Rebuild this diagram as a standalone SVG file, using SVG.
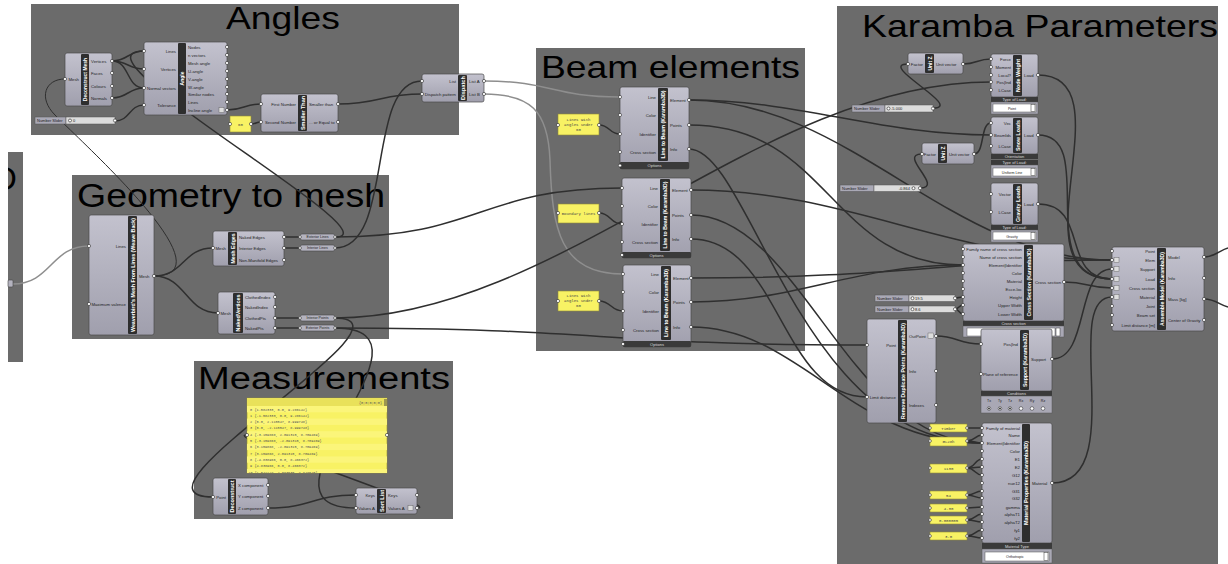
<svg xmlns="http://www.w3.org/2000/svg" width="1228" height="564" viewBox="0 0 1228 564">
<defs>
<linearGradient id="cg" x1="0" y1="0" x2="0" y2="1"><stop offset="0" stop-color="#c3c2ce"/><stop offset="1" stop-color="#a09fad"/></linearGradient>
<clipPath id="clipLeft"><rect x="8" y="152" width="15" height="210"/></clipPath>
<clipPath id="clipPanel"><rect x="247" y="398" width="140" height="75"/></clipPath>
<style>
.g{fill:#6b6b6b}
.t{font-family:"Liberation Sans",Arial,sans-serif;fill:#000}
.c{fill:url(#cg);stroke:#4a4a4a;stroke-width:.7}
.b{fill:#2e2e2e}
.bt{font-family:"Liberation Sans",Arial,sans-serif;font-weight:bold;font-size:5px;fill:#fff;text-anchor:middle;dominant-baseline:central}
.i{font-family:"Liberation Sans",Arial,sans-serif;font-size:4.3px;fill:#1e1e1e;text-anchor:end}
.o{font-family:"Liberation Sans",Arial,sans-serif;font-size:4.3px;fill:#1e1e1e;text-anchor:start}
.p{fill:#fff;stroke:#2a2a2a;stroke-width:.6}
.w{fill:none;stroke:#2f2f2f;stroke-width:1.5}
.wt{fill:none;stroke:#2f2f2f;stroke-width:1}
.wl{fill:none;stroke:#8e8e8e;stroke-width:1.5}
.y{fill:#f8f264;stroke:#8f8a3a;stroke-width:.6}
.m{font-family:"Liberation Mono",monospace;font-size:4px;fill:#444;text-anchor:middle}
.s{fill:#3a3a3a}
.st{font-family:"Liberation Sans",Arial,sans-serif;font-size:4px;fill:#ddd;text-anchor:middle}
.sl{fill:#a9a8b5;stroke:#555;stroke-width:.5}
.tr{fill:#dcdcdc;stroke:#555;stroke-width:.5}
.sx{font-family:"Liberation Sans",Arial,sans-serif;font-size:4px;fill:#222}
.dd{fill:#fff;stroke:#555;stroke-width:.5}
.rel{fill:#b4b3bf;stroke:#444;stroke-width:.6}
.rt{font-family:"Liberation Sans",Arial,sans-serif;font-size:3.6px;fill:#222;text-anchor:middle}
.pm{font-family:"Liberation Mono",monospace;font-size:3.5px;fill:#555}
</style>
</defs>
<rect width="1228" height="564" fill="#fff"/>

<g id="groups">
<rect class="g" x="31" y="4" width="428" height="131"/>
<text class="t" x="226" y="29" font-size="32" textLength="114" lengthAdjust="spacingAndGlyphs">Angles</text>
<rect class="g" x="8" y="152" width="15" height="210"/>
<text class="t" x="-7" y="190" font-size="33" clip-path="url(#clipLeft)">D</text>
<rect class="g" x="72" y="175" width="317" height="164"/>
<text class="t" x="77" y="207" font-size="33" textLength="308" lengthAdjust="spacingAndGlyphs">Geometry to mesh</text>
<rect class="g" x="194" y="361" width="259" height="158"/>
<text class="t" x="198" y="389" font-size="31" textLength="252" lengthAdjust="spacingAndGlyphs">Measurements</text>
<rect class="g" x="536" y="48" width="269" height="303"/>
<text class="t" x="541" y="78" font-size="32" textLength="259" lengthAdjust="spacingAndGlyphs">Beam elements</text>
<rect class="g" x="837" y="6" width="381" height="558"/>
<text class="t" x="862" y="37" font-size="32" textLength="356" lengthAdjust="spacingAndGlyphs">Karamba Parameters</text>
</g>

<g id="connectors">
<path class="wt" d="M154,276 C230,276 90,150 55,115 C38,98 45,79 65,79"/>
<path class="w" d="M154,276 C184,276 183,248 213,248"/>
<path class="w" d="M154,276 C186,276 186,313 218,313"/>
<path class="wl" d="M13,284 C51,284 51,246 89,246"/>
<path class="w" d="M284,237 L300,237"/>
<path class="w" d="M284,248 L300,248"/>
<path class="w" d="M275,318 L300,318"/>
<path class="w" d="M275,328 L300,328"/>
<path class="w" d="M112,61 C128,61 128,51 144,51"/>
<path class="w" d="M112,61 C128,61 128,69 144,69"/>
<path class="w" d="M112,61 C130,61 126,88 144,88"/>
<path class="w" d="M112,98 C128,98 128,88 144,88"/>
<path class="w" d="M115,121 C130,121 129,105 144,105"/>
<path class="w" d="M227,110 C244,110 244,104 261,104"/>
<path class="w" d="M251,124 C256,124 256,122 261,122"/>
<path class="w" d="M338,104 C380,104 380,94 422,94"/>
<path class="w" d="M335,248 C395,248 365,81 422,81"/>
<path class="w" d="M335,237 C400,237 60,51 144,51"/>
<path class="wl" d="M484,81 C552,81 552,97 620,97"/>
<path class="wl" d="M484,94 C530,94 548,110 550,160 C552,230 560,274 623,274"/>
<path class="w" d="M335,237 C480,237 480,188 622,188"/>
<path class="w" d="M599,125 C610,125 609,134 620,134"/>
<path class="w" d="M599,213 C611,213 610,224 622,224"/>
<path class="w" d="M599,301 C611,301 611,311 623,311"/>
<path class="w" d="M335,318 C560,318 760,82 991,82"/>
<path class="w" d="M335,328 C600,328 600,345 867,345"/>
<path class="w" d="M335,318 C430,318 110,497 213,497"/>
<path class="w" d="M335,328 C455,328 236,508 356,508"/>
<path class="w" d="M268,508 C312,508 312,495 356,495"/>
<path class="w" d="M417,508 C447,508 217,435 247,435"/>
<path class="w" d="M689,100 C850,100 950,260 1112,260"/>
<path class="w" d="M691,190 C850,190 950,260 1112,260"/>
<path class="w" d="M691,278 C900,278 950,260 1112,260"/>
<path class="w" d="M689,100 C800,100 880,135 991,135"/>
<path class="w" d="M689,125 C830,125 830,265 963,265"/>
<path class="w" d="M689,149 C750,149 800,443 982,443"/>
<path class="w" d="M691,215 C800,215 850,443 982,443"/>
<path class="w" d="M691,239 C780,239 780,397 867,397"/>
<path class="w" d="M691,302 C800,302 850,265 963,265"/>
<path class="w" d="M691,327 C800,327 850,443 982,443"/>
<path class="w" d="M933,108 C965,108 876,64 908,64"/>
<path class="w" d="M963,64 C977,64 977,59 991,59"/>
<path class="w" d="M1038,75 C1130,75 1010,279 1112,279"/>
<path class="w" d="M1038,135 C1100,135 1030,279 1112,279"/>
<path class="w" d="M1038,204 C1090,204 1060,279 1112,279"/>
<path class="w" d="M920,188 C945,188 897,154 922,154"/>
<path class="w" d="M974,154 C985,154 980,123 991,123"/>
<path class="w" d="M955,298 C959,298 959,297 963,297"/>
<path class="w" d="M955,309 C959,309 959,305 963,305"/>
<path class="w" d="M955,309 C959,309 959,314 963,314"/>
<path class="w" d="M1064,282 C1088,282 1088,288 1112,288"/>
<path class="w" d="M1052,359 C1090,359 1075,269 1112,269"/>
<path class="w" d="M936,336 C958,336 958,344 981,344"/>
<path class="w" d="M1052,483 C1130,483 1060,297 1112,297"/>
<path class="w" d="M1204,257 C1215,257 1220,250 1228,248"/>
<path class="w" d="M1204,299 C1215,299 1220,305 1228,307"/>
<path class="w" d="M967,428 L982,428"/>
<path class="w" d="M967,441 C975,441 975,435 982,435"/>
<path class="w" d="M967,441 C975,441 975,443 982,443"/>
<path class="w" d="M967,468 C975,468 975,459 982,459"/>
<path class="w" d="M967,468 C975,468 975,467 982,467"/>
<path class="w" d="M967,468 C975,468 975,475 982,475"/>
<path class="w" d="M967,495 C975,495 975,491 982,491"/>
<path class="w" d="M967,495 C975,495 975,498 982,498"/>
<path class="w" d="M967,508 L982,507"/>
<path class="w" d="M967,520 C975,520 975,514 982,514"/>
<path class="w" d="M967,520 C975,520 975,522 982,522"/>
<path class="w" d="M967,536 C975,536 975,530 982,530"/>
<path class="w" d="M967,536 C975,536 975,538 982,538"/>
</g>

<g id="left-param"><rect class="rel" x="8" y="280" width="5" height="7" rx="1"/></g>

<g id="deconstruct-mesh">
<rect class="c" x="65" y="53" width="47" height="53" rx="2"/>
<rect class="b" x="81" y="54" width="8" height="51" rx="1"/>
<text class="bt" transform="translate(85,79.5) rotate(-90)">Deconstruct Mesh</text>
<text class="i" x="79" y="80.5">Mesh</text>
<text class="o" x="91" y="62.5">Vertices</text><text class="o" x="91" y="74.5">Faces</text><text class="o" x="91" y="87.5">Colours</text><text class="o" x="91" y="99.5">Normals</text>
<circle class="p" cx="65" cy="79" r="1.6"/><circle class="p" cx="112" cy="61" r="1.6"/><circle class="p" cx="112" cy="73" r="1.6"/><circle class="p" cx="112" cy="86" r="1.6"/><circle class="p" cx="112" cy="98" r="1.6"/>
</g>

<g id="angle">
<rect class="c" x="144" y="42" width="83" height="73" rx="2"/>
<rect class="b" x="178" y="43" width="8" height="71" rx="1"/>
<text class="bt" transform="translate(182,78.5) rotate(-90)">Angle</text>
<text class="i" x="176" y="52.5">Lines</text><text class="i" x="176" y="70.5">Vertices</text><text class="i" x="176" y="89.5">Normal vectors</text><text class="i" x="176" y="106.5">Tolerance</text>
<text class="o" x="188" y="48.5">Nodes</text><text class="o" x="188" y="56.5">n vectors</text><text class="o" x="188" y="64.5">Mesh angle</text><text class="o" x="188" y="72.5">U-angle</text><text class="o" x="188" y="80.5">V-angle</text><text class="o" x="188" y="88.5">W-angle</text><text class="o" x="188" y="95.5">Similar nodes</text><text class="o" x="188" y="103.5">Lines</text><text class="o" x="188" y="111.5">Incline angle</text>
<rect x="219" y="107.5" width="5" height="5" fill="#ddd" stroke="#555" stroke-width=".4"/>
<circle class="p" cx="144" cy="51" r="1.6"/><circle class="p" cx="144" cy="69" r="1.6"/><circle class="p" cx="144" cy="88" r="1.6"/><circle class="p" cx="144" cy="105" r="1.6"/>
<circle class="p" cx="227" cy="47" r="1.6"/><circle class="p" cx="227" cy="55" r="1.6"/><circle class="p" cx="227" cy="63" r="1.6"/><circle class="p" cx="227" cy="71" r="1.6"/><circle class="p" cx="227" cy="79" r="1.6"/><circle class="p" cx="227" cy="87" r="1.6"/><circle class="p" cx="227" cy="94" r="1.6"/><circle class="p" cx="227" cy="102" r="1.6"/><circle class="p" cx="227" cy="110" r="1.6"/>
</g>

<g id="slider-tolerance">
<rect class="sl" x="35" y="117" width="31" height="7"/><rect class="tr" x="66" y="117" width="49" height="7"/>
<text class="sx" x="37" y="122">Number Slider</text>
<circle cx="70" cy="120.5" r="1.5" fill="#fff" stroke="#222" stroke-width=".6"/><text class="sx" x="73" y="122">0</text>
<circle class="p" cx="115" cy="120.5" r="1.6"/>
</g>

<g id="panel-60">
<rect class="y" x="230" y="116" width="21" height="16"/>
<text class="m" x="240.5" y="125.5">60</text>
<circle class="p" cx="230" cy="124" r="1.6"/><circle class="p" cx="251" cy="124" r="1.6"/>
</g>

<g id="smaller-than">
<rect class="c" x="261" y="94" width="77" height="38" rx="2"/>
<rect class="b" x="298" y="95" width="9" height="36" rx="1"/>
<text class="bt" transform="translate(302.5,113) rotate(-90)" textLength="34" lengthAdjust="spacingAndGlyphs">Smaller Than</text>
<text class="i" x="296" y="105.5">First Number</text><text class="i" x="296" y="123.5">Second Number</text>
<text class="o" x="309" y="105.5">Smaller than</text><text class="o" x="309" y="123.5">... or Equal to</text>
<circle class="p" cx="261" cy="104" r="1.6"/><circle class="p" cx="261" cy="122" r="1.6"/><circle class="p" cx="338" cy="104" r="1.6"/><circle class="p" cx="338" cy="122" r="1.6"/>
</g>

<g id="dispatch">
<rect class="c" x="422" y="74" width="62" height="28" rx="2"/>
<rect class="b" x="458" y="75" width="9" height="26" rx="1"/>
<text class="bt" transform="translate(462.5,88) rotate(-90)" textLength="24" lengthAdjust="spacingAndGlyphs">Dispatch</text>
<text class="i" x="456" y="82.5">List</text><text class="i" x="456" y="95.5">Dispatch pattern</text>
<text class="o" x="469" y="82.5">List A</text><text class="o" x="469" y="95.5">List B</text>
<circle class="p" cx="422" cy="81" r="1.6"/><circle class="p" cx="422" cy="94" r="1.6"/><circle class="p" cx="484" cy="81" r="1.6"/><circle class="p" cx="484" cy="94" r="1.6"/>
</g>

<g id="weaverbird-mesh">
<rect class="c" x="89" y="215" width="65" height="120" rx="2"/>
<rect class="b" x="128" y="216" width="9" height="118" rx="1"/>
<text class="bt" transform="translate(132.5,275) rotate(-90)" textLength="114" lengthAdjust="spacingAndGlyphs">Weaverbird's Mesh From Lines (Weave Back)</text>
<text class="i" x="126" y="247.5">Lines</text><text class="i" x="126" y="305.5">Maximum valence</text>
<text class="o" x="139" y="277.5">Mesh</text>
<circle class="p" cx="89" cy="246" r="1.6"/><circle class="p" cx="89" cy="304" r="1.6"/><circle class="p" cx="154" cy="276" r="1.6"/>
</g>

<g id="mesh-edges">
<rect class="c" x="213" y="231" width="71" height="35" rx="2"/>
<rect class="b" x="228" y="232" width="9" height="33" rx="1"/>
<text class="bt" transform="translate(232.5,248.5) rotate(-90)" textLength="30" lengthAdjust="spacingAndGlyphs">Mesh Edges</text>
<text class="i" x="226" y="249.5">Mesh</text>
<text class="o" x="239" y="238.5">Naked Edges</text><text class="o" x="239" y="249.5">Interior Edges</text><text class="o" x="239" y="261.5">Non-Manifold Edges</text>
<circle class="p" cx="213" cy="248" r="1.6"/><circle class="p" cx="284" cy="237" r="1.6"/><circle class="p" cx="284" cy="248" r="1.6"/><circle class="p" cx="284" cy="260" r="1.6"/>
</g>

<g id="exterior-lines"><rect class="rel" x="300" y="234" width="35" height="6" rx="2"/><text class="rt" x="317.5" y="238.3">Exterior Lines</text><circle class="p" cx="300" cy="237" r="1.4"/><circle class="p" cx="335" cy="237" r="1.4"/></g>
<g id="interior-lines"><rect class="rel" x="300" y="245" width="35" height="6" rx="2"/><text class="rt" x="317.5" y="249.3">Interior Lines</text><circle class="p" cx="300" cy="248" r="1.4"/><circle class="p" cx="335" cy="248" r="1.4"/></g>
<g id="interior-points"><rect class="rel" x="300" y="315" width="35" height="6" rx="2"/><text class="rt" x="317.5" y="319.3">Interior Points</text><circle class="p" cx="300" cy="318" r="1.4"/><circle class="p" cx="335" cy="318" r="1.4"/></g>
<g id="exterior-points"><rect class="rel" x="300" y="325" width="35" height="6" rx="2"/><text class="rt" x="317.5" y="329.3">Exterior Points</text><circle class="p" cx="300" cy="328" r="1.4"/><circle class="p" cx="335" cy="328" r="1.4"/></g>

<g id="naked-vertices">
<rect class="c" x="218" y="292" width="57" height="42" rx="2"/>
<rect class="b" x="233" y="293" width="10" height="40" rx="1"/>
<text class="bt" transform="translate(238,313) rotate(-90)" textLength="37" lengthAdjust="spacingAndGlyphs">NakedVertices</text>
<text class="i" x="231" y="314.5">Mesh</text>
<text class="o" x="245" y="298.5">ClothedIndex</text><text class="o" x="245" y="308.5">NakedIndex</text><text class="o" x="245" y="319.5">ClothedPts</text><text class="o" x="245" y="329.5">NakedPts</text>
<circle class="p" cx="218" cy="313" r="1.6"/><circle class="p" cx="275" cy="297" r="1.6"/><circle class="p" cx="275" cy="307" r="1.6"/><circle class="p" cx="275" cy="318" r="1.6"/><circle class="p" cx="275" cy="328" r="1.6"/>
</g>

<g id="measurement-panel">
<rect class="y" x="247" y="398" width="140" height="75"/>
<g clip-path="url(#clipPanel)">
<rect x="247" y="398" width="140" height="8" fill="#e9e15a"/>
<rect x="384" y="399" width="3" height="7" fill="#9c9650"/>
<text class="pm" x="382" y="403.5" text-anchor="end">{0;0;0;0;0}</text>
<rect x="247" y="406" width="140" height="6.3" fill="#fbf57a"/>
<rect x="247" y="418.6" width="140" height="6.3" fill="#fbf57a"/>
<rect x="247" y="431.2" width="140" height="6.3" fill="#fbf57a"/>
<rect x="247" y="443.8" width="140" height="6.3" fill="#fbf57a"/>
<rect x="247" y="456.4" width="140" height="6.3" fill="#fbf57a"/>
<rect x="247" y="469" width="140" height="6.3" fill="#fbf57a"/>
<text class="pm" x="250" y="410.5">0</text><text class="pm" x="254.5" y="410.5">{1.582333, 0.0, 9.286142}</text>
<text class="pm" x="250" y="416.8">1</text><text class="pm" x="254.5" y="416.8">{-1.582333, 0.0, 9.286142}</text>
<text class="pm" x="250" y="423.1">2</text><text class="pm" x="254.5" y="423.1">{0.0, 2.115547, 8.999748}</text>
<text class="pm" x="250" y="429.4">3</text><text class="pm" x="254.5" y="429.4">{0.0, -2.115547, 8.999748}</text>
<text class="pm" x="250" y="435.7">4</text><text class="pm" x="254.5" y="435.7">{-3.159868, 2.091315, 8.709469}</text>
<text class="pm" x="250" y="442">5</text><text class="pm" x="254.5" y="442">{-3.159868, -2.091315, 8.709469}</text>
<text class="pm" x="250" y="448.3">6</text><text class="pm" x="254.5" y="448.3">{3.159868, -2.091315, 8.709469}</text>
<text class="pm" x="250" y="454.6">7</text><text class="pm" x="254.5" y="454.6">{3.159868, 2.091315, 8.709469}</text>
<text class="pm" x="250" y="460.9">8</text><text class="pm" x="254.5" y="460.9">{-4.838966, 0.0, 8.466372}</text>
<text class="pm" x="250" y="467.2">9</text><text class="pm" x="254.5" y="467.2">{4.838966, 0.0, 8.466372}</text>
<text class="pm" x="248.5" y="473.5">10</text><text class="pm" x="254.5" y="473.5">{1.541127, 4.063535, 7.848545}</text>
</g>
<circle class="p" cx="247" cy="435" r="1.6"/><circle class="p" cx="387" cy="435" r="1.6"/>
</g>

<g id="deconstruct-point">
<rect class="c" x="213" y="478" width="55" height="37" rx="2"/>
<rect class="b" x="228" y="479" width="8" height="35" rx="1"/>
<text class="bt" transform="translate(232,496.5) rotate(-90)" textLength="32" lengthAdjust="spacingAndGlyphs">Deconstruct</text>
<text class="i" x="226" y="498.5">Point</text>
<text class="o" x="238" y="486.5">X component</text><text class="o" x="238" y="497.5">Y component</text><text class="o" x="238" y="509.5">Z component</text>
<circle class="p" cx="213" cy="497" r="1.6"/><circle class="p" cx="268" cy="485" r="1.6"/><circle class="p" cx="268" cy="496" r="1.6"/><circle class="p" cx="268" cy="508" r="1.6"/>
</g>

<g id="sort-list">
<rect class="c" x="356" y="488" width="61" height="26" rx="2"/>
<rect class="b" x="377" y="489" width="9" height="24" rx="1"/>
<text class="bt" transform="translate(381.5,501) rotate(-90)" textLength="22" lengthAdjust="spacingAndGlyphs">Sort List</text>
<text class="i" x="375" y="496.5">Keys</text><text class="i" x="375" y="509.5">Values A</text>
<text class="o" x="388" y="496.5">Keys</text><text class="o" x="388" y="509.5">Values A</text>
<rect x="408" y="505.5" width="5" height="5" fill="#ddd" stroke="#555" stroke-width=".4"/>
<circle class="p" cx="356" cy="495" r="1.6"/><circle class="p" cx="356" cy="508" r="1.6"/><circle class="p" cx="417" cy="495" r="1.6"/><circle class="p" cx="417" cy="508" r="1.6"/>
</g>

<g id="panel-beam1"><rect class="y" x="558" y="114" width="41" height="21"/><text class="m" x="578.5" y="120.5">Lines with</text><text class="m" x="578.5" y="125.5">angles under</text><text class="m" x="578.5" y="130.5">60</text><circle class="p" cx="558" cy="125" r="1.6"/><circle class="p" cx="599" cy="125" r="1.6"/></g>
<g id="panel-beam2"><rect class="y" x="558" y="204" width="41" height="19"/><text class="m" x="578.5" y="214.5">Boundary lines</text><circle class="p" cx="558" cy="213" r="1.6"/><circle class="p" cx="599" cy="213" r="1.6"/></g>
<g id="panel-beam3"><rect class="y" x="558" y="291" width="41" height="20"/><text class="m" x="578.5" y="297">Lines with</text><text class="m" x="578.5" y="302">angles under</text><text class="m" x="578.5" y="307">60</text><circle class="p" cx="558" cy="301" r="1.6"/><circle class="p" cx="599" cy="301" r="1.6"/></g>

<g id="line-to-beam-1">
<rect class="c" x="620" y="87" width="69" height="82" rx="2"/>
<rect class="b" x="658" y="88" width="10" height="73" rx="1"/>
<rect class="s" x="620" y="162" width="69" height="7" rx="1"/><text class="st" x="654.5" y="167">Options</text>
<text class="bt" transform="translate(663,124.5) rotate(-90)" textLength="68" lengthAdjust="spacingAndGlyphs">Line to Beam (Karamba3D)</text>
<text class="i" x="656" y="98.5">Line</text><text class="i" x="656" y="116.5">Color</text><text class="i" x="656" y="135.5">Identifier</text><text class="i" x="656" y="153.5">Cross section</text>
<text class="o" x="670" y="101.5">Element</text><text class="o" x="670" y="126.5">Points</text><text class="o" x="670" y="150.5">Info</text>
<circle class="p" cx="620" cy="97" r="1.6"/><circle class="p" cx="620" cy="115" r="1.6"/><circle class="p" cx="620" cy="134" r="1.6"/><circle class="p" cx="620" cy="152" r="1.6"/><circle class="p" cx="620" cy="165.5" r="1.6"/>
<circle class="p" cx="689" cy="100" r="1.6"/><circle class="p" cx="689" cy="125" r="1.6"/><circle class="p" cx="689" cy="149" r="1.6"/>
</g>

<g id="line-to-beam-2">
<rect class="c" x="622" y="178" width="69" height="80" rx="2"/>
<rect class="b" x="660" y="179" width="10" height="72" rx="1"/>
<rect class="s" x="622" y="252" width="69" height="6" rx="1"/><text class="st" x="656.5" y="256.5">Options</text>
<text class="bt" transform="translate(665,215) rotate(-90)" textLength="67" lengthAdjust="spacingAndGlyphs">Line to Beam (Karamba3D)</text>
<text class="i" x="658" y="189.5">Line</text><text class="i" x="658" y="207.5">Color</text><text class="i" x="658" y="225.5">Identifier</text><text class="i" x="658" y="243.5">Cross section</text>
<text class="o" x="672" y="191.5">Element</text><text class="o" x="672" y="216.5">Points</text><text class="o" x="672" y="240.5">Info</text>
<circle class="p" cx="622" cy="188" r="1.6"/><circle class="p" cx="622" cy="206" r="1.6"/><circle class="p" cx="622" cy="224" r="1.6"/><circle class="p" cx="622" cy="242" r="1.6"/><circle class="p" cx="622" cy="255" r="1.6"/>
<circle class="p" cx="691" cy="190" r="1.6"/><circle class="p" cx="691" cy="215" r="1.6"/><circle class="p" cx="691" cy="239" r="1.6"/>
</g>

<g id="line-to-beam-3">
<rect class="c" x="623" y="265" width="68" height="82" rx="2"/>
<rect class="b" x="661" y="266" width="10" height="74" rx="1"/>
<rect class="s" x="623" y="341" width="68" height="6" rx="1"/><text class="st" x="657" y="345.5">Options</text>
<text class="bt" transform="translate(666,303) rotate(-90)" textLength="68" lengthAdjust="spacingAndGlyphs">Line to Beam (Karamba3D)</text>
<text class="i" x="659" y="275.5">Line</text><text class="i" x="659" y="293.5">Color</text><text class="i" x="659" y="312.5">Identifier</text><text class="i" x="659" y="331.5">Cross section</text>
<text class="o" x="673" y="279.5">Element</text><text class="o" x="673" y="303.5">Points</text><text class="o" x="673" y="328.5">Info</text>
<circle class="p" cx="623" cy="274" r="1.6"/><circle class="p" cx="623" cy="292" r="1.6"/><circle class="p" cx="623" cy="311" r="1.6"/><circle class="p" cx="623" cy="330" r="1.6"/><circle class="p" cx="623" cy="344" r="1.6"/>
<circle class="p" cx="691" cy="278" r="1.6"/><circle class="p" cx="691" cy="302" r="1.6"/><circle class="p" cx="691" cy="327" r="1.6"/>
</g>

<g id="unit-z-1">
<rect class="c" x="908" y="53" width="55" height="21" rx="2"/>
<rect class="b" x="925" y="54" width="9" height="19" rx="1"/>
<text class="bt" transform="translate(929.5,63.5) rotate(-90)">Unit Z</text>
<text class="i" x="923" y="65.5">Factor</text><text class="o" x="936" y="65.5">Unit vector</text>
<circle class="p" cx="908" cy="64" r="1.6"/><circle class="p" cx="963" cy="64" r="1.6"/>
</g>

<g id="node-weight">
<rect class="c" x="991" y="54" width="47" height="43" rx="2"/>
<rect class="b" x="1013" y="55" width="9" height="41" rx="1"/>
<text class="bt" transform="translate(1017.5,75.5) rotate(-90)" textLength="33" lengthAdjust="spacingAndGlyphs">Node Weight</text>
<text class="i" x="1011" y="60.5">Force</text><text class="i" x="1011" y="68.5">Moment</text><text class="i" x="1011" y="76.5">Local?</text><text class="i" x="1011" y="83.5">Pos|Ind</text><text class="i" x="1011" y="91.5">LCase</text>
<text class="o" x="1024" y="76.5">Load</text>
<rect class="s" x="991" y="97" width="47" height="5"/><text class="st" x="1014.5" y="101">Type of Load:</text>
<rect class="sl" x="991" y="102" width="47" height="12"/><rect class="dd" x="993" y="104" width="43" height="8"/><rect x="1031" y="104.5" width="4" height="7" fill="#fff" stroke="#333" stroke-width=".5"/>
<text class="rt" x="1012" y="109.5">Point</text>
<circle class="p" cx="991" cy="59" r="1.6"/><circle class="p" cx="991" cy="67" r="1.6"/><circle class="p" cx="991" cy="75" r="1.6"/><circle class="p" cx="991" cy="82" r="1.6"/><circle class="p" cx="991" cy="90" r="1.6"/><circle class="p" cx="1038" cy="75" r="1.6"/>
</g>

<g id="slider-force">
<rect class="sl" x="852" y="105" width="33" height="7"/><rect class="tr" x="885" y="105" width="48" height="7"/>
<text class="sx" x="854" y="110">Number Slider</text>
<circle cx="888.5" cy="108.5" r="1.5" fill="#fff" stroke="#222" stroke-width=".6"/><text class="sx" x="891" y="110">-5.000</text>
<circle class="p" cx="933" cy="108.5" r="1.6"/>
</g>

<g id="snow-loads">
<rect class="c" x="991" y="117" width="47" height="37" rx="2"/>
<rect class="b" x="1013" y="118" width="9" height="35" rx="1"/>
<text class="bt" transform="translate(1017.5,135.5) rotate(-90)" textLength="31" lengthAdjust="spacingAndGlyphs">Snow Loads</text>
<text class="i" x="1011" y="124.5">Vec</text><text class="i" x="1011" y="136.5">BeamIds</text><text class="i" x="1011" y="147.5">LCase</text>
<text class="o" x="1024" y="136.5">Load</text>
<rect class="s" x="991" y="154" width="47" height="5"/><text class="st" x="1014.5" y="158">Orientation</text>
<rect class="s" x="991" y="160" width="47" height="5"/><text class="st" x="1014.5" y="164">Type of Load:</text>
<rect class="sl" x="991" y="165" width="47" height="13"/><rect class="dd" x="993" y="168" width="43" height="8"/><rect x="1031" y="168.5" width="4" height="7" fill="#fff" stroke="#333" stroke-width=".5"/>
<text class="rt" x="1012" y="173.5">Uniform Line</text>
<circle class="p" cx="991" cy="123" r="1.6"/><circle class="p" cx="991" cy="135" r="1.6"/><circle class="p" cx="991" cy="146" r="1.6"/><circle class="p" cx="1038" cy="135" r="1.6"/>
</g>

<g id="unit-z-2">
<rect class="c" x="922" y="143" width="52" height="21" rx="2"/>
<rect class="b" x="938" y="144" width="9" height="19" rx="1"/>
<text class="bt" transform="translate(942.5,153.5) rotate(-90)">Unit Z</text>
<text class="i" x="936" y="155.5">Factor</text><text class="o" x="949" y="155.5">Unit vector</text>
<circle class="p" cx="922" cy="154" r="1.6"/><circle class="p" cx="974" cy="154" r="1.6"/>
</g>

<g id="slider-snow">
<rect class="sl" x="840" y="185" width="34" height="6.5"/><rect class="tr" x="874" y="185" width="46" height="6.5"/>
<text class="sx" x="842" y="189.8">Number Slider</text>
<text class="sx" x="910" y="189.8" text-anchor="end">-0.864</text><circle cx="913.5" cy="188.2" r="1.5" fill="#fff" stroke="#222" stroke-width=".6"/>
<circle class="p" cx="920" cy="188.2" r="1.6"/>
</g>

<g id="gravity-loads">
<rect class="c" x="991" y="183" width="47" height="42" rx="2"/>
<rect class="b" x="1013" y="184" width="9" height="40" rx="1"/>
<text class="bt" transform="translate(1017.5,204) rotate(-90)" textLength="36" lengthAdjust="spacingAndGlyphs">Gravity Loads</text>
<text class="i" x="1011" y="195.5">Vector</text><text class="i" x="1011" y="213.5">LCase</text>
<text class="o" x="1024" y="205.5">Load</text>
<rect class="s" x="991" y="225" width="47" height="5"/><text class="st" x="1014.5" y="229">Type of Load:</text>
<rect class="sl" x="991" y="230" width="47" height="12"/><rect class="dd" x="993" y="232" width="43" height="8"/><rect x="1031" y="232.5" width="4" height="7" fill="#fff" stroke="#333" stroke-width=".5"/>
<text class="rt" x="1012" y="237.5">Gravity</text>
<circle class="p" cx="991" cy="194" r="1.6"/><circle class="p" cx="991" cy="212" r="1.6"/><circle class="p" cx="1038" cy="204" r="1.6"/>
</g>

<g id="cross-section">
<rect class="c" x="963" y="244" width="101" height="77" rx="2"/>
<rect class="b" x="1024" y="245" width="9" height="75" rx="1"/>
<text class="bt" transform="translate(1028.5,282.5) rotate(-90)" textLength="68" lengthAdjust="spacingAndGlyphs">Cross Section (Karamba3D)</text>
<text class="i" x="1022" y="250.5">Family name of cross section</text><text class="i" x="1022" y="258.5">Name of cross section</text><text class="i" x="1022" y="266.5">Element|Identifier</text><text class="i" x="1022" y="274.5">Color</text><text class="i" x="1022" y="282.5">Material</text><text class="i" x="1022" y="290.5">Ecce-loc</text><text class="i" x="1022" y="298.5">Height</text><text class="i" x="1022" y="306.5">Upper Width</text><text class="i" x="1022" y="315.5">Lower Width</text>
<text class="o" x="1035" y="283.5">Cross section</text>
<rect class="s" x="963" y="321" width="101" height="5"/><text class="st" x="1013.5" y="325">Cross section</text>
<rect class="sl" x="963" y="326" width="101" height="11"/><rect class="dd" x="967" y="328" width="88" height="8"/><rect x="1056" y="328" width="4" height="8" fill="#fff" stroke="#333" stroke-width=".5"/>
<circle class="p" cx="963" cy="249" r="1.6"/><circle class="p" cx="963" cy="257" r="1.6"/><circle class="p" cx="963" cy="265" r="1.6"/><circle class="p" cx="963" cy="273" r="1.6"/><circle class="p" cx="963" cy="281" r="1.6"/><circle class="p" cx="963" cy="289" r="1.6"/><circle class="p" cx="963" cy="297" r="1.6"/><circle class="p" cx="963" cy="305" r="1.6"/><circle class="p" cx="963" cy="314" r="1.6"/><circle class="p" cx="1064" cy="282" r="1.6"/>
</g>

<g id="slider-height">
<rect class="sl" x="875" y="295" width="34" height="6.5"/><rect class="tr" x="909" y="295" width="46" height="6.5"/>
<text class="sx" x="877" y="299.8">Number Slider</text>
<circle cx="912.5" cy="298.2" r="1.5" fill="#fff" stroke="#222" stroke-width=".6"/><text class="sx" x="915" y="299.8">19.5</text>
<circle class="p" cx="955" cy="298.2" r="1.6"/>
</g>
<g id="slider-width">
<rect class="sl" x="875" y="306" width="34" height="6.5"/><rect class="tr" x="909" y="306" width="46" height="6.5"/>
<text class="sx" x="877" y="310.8">Number Slider</text>
<circle cx="912.5" cy="309.2" r="1.5" fill="#fff" stroke="#222" stroke-width=".6"/><text class="sx" x="915" y="310.8">8.6</text>
<circle class="p" cx="955" cy="309.2" r="1.6"/>
</g>

<g id="assemble-model">
<rect class="c" x="1112" y="247" width="92" height="84" rx="2"/>
<rect class="b" x="1157" y="248" width="9" height="82" rx="1"/>
<text class="bt" transform="translate(1161.5,289) rotate(-90)" textLength="74" lengthAdjust="spacingAndGlyphs">Assemble Model (Karamba3D)</text>
<text class="i" x="1155" y="252.5">Point</text><text class="i" x="1155" y="261.5">Elem</text><text class="i" x="1155" y="270.5">Support</text><text class="i" x="1155" y="280.5">Load</text><text class="i" x="1155" y="289.5">Cross section</text><text class="i" x="1155" y="298.5">Material</text><text class="i" x="1155" y="307.5">Joint</text><text class="i" x="1155" y="316.5">Beam set</text><text class="i" x="1155" y="326.5">Limit distance [m]</text>
<text class="o" x="1168" y="258.5">Model</text><text class="o" x="1168" y="279.5">Info</text><text class="o" x="1168" y="300.5">Mass [kg]</text><text class="o" x="1168" y="321.5">Center of Gravity</text>
<rect x="1114" y="257.5" width="5" height="5" fill="#ddd" stroke="#555" stroke-width=".4"/><rect x="1114" y="266.5" width="5" height="5" fill="#ddd" stroke="#555" stroke-width=".4"/><rect x="1114" y="276.5" width="5" height="5" fill="#ddd" stroke="#555" stroke-width=".4"/><rect x="1114" y="285.5" width="5" height="5" fill="#ddd" stroke="#555" stroke-width=".4"/><rect x="1114" y="294.5" width="5" height="5" fill="#ddd" stroke="#555" stroke-width=".4"/>
<circle class="p" cx="1112" cy="251" r="1.6"/><circle class="p" cx="1112" cy="260" r="1.6"/><circle class="p" cx="1112" cy="269" r="1.6"/><circle class="p" cx="1112" cy="279" r="1.6"/><circle class="p" cx="1112" cy="288" r="1.6"/><circle class="p" cx="1112" cy="297" r="1.6"/><circle class="p" cx="1112" cy="306" r="1.6"/><circle class="p" cx="1112" cy="315" r="1.6"/><circle class="p" cx="1112" cy="325" r="1.6"/>
<circle class="p" cx="1204" cy="257" r="1.6"/><circle class="p" cx="1204" cy="278" r="1.6"/><circle class="p" cx="1204" cy="299" r="1.6"/><circle class="p" cx="1204" cy="320" r="1.6"/>
</g>

<g id="remove-duplicate-points">
<rect class="c" x="867" y="319" width="69" height="104" rx="2"/>
<rect class="b" x="898" y="320" width="9" height="102" rx="1"/>
<text class="bt" transform="translate(902.5,371) rotate(-90)" textLength="96" lengthAdjust="spacingAndGlyphs">Remove Duplicate Points (Karamba3D)</text>
<text class="i" x="896" y="346.5">Point</text><text class="i" x="896" y="398.5">Limit distance</text>
<text class="o" x="909" y="337.5">OutPoint</text><text class="o" x="909" y="372.5">Info</text><text class="o" x="909" y="406.5">Indexes</text>
<rect x="928" y="333" width="5.5" height="5.5" fill="#ddd" stroke="#555" stroke-width=".4"/>
<circle class="p" cx="867" cy="345" r="1.6"/><circle class="p" cx="867" cy="397" r="1.6"/><circle class="p" cx="936" cy="336" r="1.6"/><circle class="p" cx="936" cy="371" r="1.6"/><circle class="p" cx="936" cy="405" r="1.6"/>
</g>

<g id="support">
<rect class="c" x="981" y="329" width="71" height="62" rx="2"/>
<rect class="b" x="1020" y="330" width="9" height="60" rx="1"/>
<text class="bt" transform="translate(1024.5,360) rotate(-90)" textLength="54" lengthAdjust="spacingAndGlyphs">Support (Karamba3D)</text>
<text class="i" x="1018" y="345.5">Pos|Ind</text><text class="i" x="1018" y="375.5">Plane of reference</text>
<text class="o" x="1031" y="360.5">Support</text>
<rect class="s" x="981" y="391" width="71" height="5"/><text class="st" x="1016.5" y="395">Conditions</text>
<rect class="sl" x="981" y="396" width="71" height="17"/>
<text class="rt" x="989" y="402">Tx</text><text class="rt" x="1000" y="402">Ty</text><text class="rt" x="1010" y="402">Tz</text><text class="rt" x="1021" y="402">Rx</text><text class="rt" x="1032" y="402">Ry</text><text class="rt" x="1043" y="402">Rz</text>
<circle cx="989" cy="408.5" r="1.8" fill="#fff" stroke="#222" stroke-width=".5"/><circle cx="989" cy="408.5" r="0.9" fill="#222"/>
<circle cx="1000" cy="408.5" r="1.8" fill="#fff" stroke="#222" stroke-width=".5"/><circle cx="1000" cy="408.5" r="0.9" fill="#222"/>
<circle cx="1010" cy="408.5" r="1.8" fill="#fff" stroke="#222" stroke-width=".5"/><circle cx="1010" cy="408.5" r="0.9" fill="#222"/>
<circle cx="1021" cy="408.5" r="1.8" fill="#fff" stroke="#222" stroke-width=".5"/>
<circle cx="1032" cy="408.5" r="1.8" fill="#fff" stroke="#222" stroke-width=".5"/>
<circle cx="1043" cy="408.5" r="1.8" fill="#fff" stroke="#222" stroke-width=".5"/>
<circle class="p" cx="981" cy="344" r="1.6"/><circle class="p" cx="981" cy="374" r="1.6"/><circle class="p" cx="1052" cy="359" r="1.6"/>
</g>

<g id="material-panels">
<rect class="y" x="930" y="424" width="37" height="8"/><text class="m" x="948.5" y="429.5">Timber</text>
<rect class="y" x="930" y="437" width="37" height="9"/><text class="m" x="948.5" y="443">GL28h</text>
<rect class="y" x="930" y="464" width="37" height="9"/><text class="m" x="948.5" y="470">1130</text>
<rect class="y" x="930" y="491" width="37" height="8"/><text class="m" x="948.5" y="496.5">54</text>
<rect class="y" x="930" y="504" width="37" height="8"/><text class="m" x="948.5" y="509.5">4.30</text>
<rect class="y" x="930" y="516" width="37" height="8"/><text class="m" x="948.5" y="521.5">0.000005</text>
<rect class="y" x="930" y="532" width="37" height="8"/><text class="m" x="948.5" y="537.5">3.0</text>
<circle class="p" cx="930" cy="428" r="1.4"/><circle class="p" cx="967" cy="428" r="1.4"/>
<circle class="p" cx="930" cy="441" r="1.4"/><circle class="p" cx="967" cy="441" r="1.4"/>
<circle class="p" cx="930" cy="468" r="1.4"/><circle class="p" cx="967" cy="468" r="1.4"/>
<circle class="p" cx="930" cy="495" r="1.4"/><circle class="p" cx="967" cy="495" r="1.4"/>
<circle class="p" cx="930" cy="508" r="1.4"/><circle class="p" cx="967" cy="508" r="1.4"/>
<circle class="p" cx="930" cy="520" r="1.4"/><circle class="p" cx="967" cy="520" r="1.4"/>
<circle class="p" cx="930" cy="536" r="1.4"/><circle class="p" cx="967" cy="536" r="1.4"/>
</g>

<g id="material-properties">
<rect class="c" x="982" y="423" width="70" height="120" rx="2"/>
<rect class="b" x="1022" y="424" width="8" height="118" rx="1"/>
<text class="bt" transform="translate(1026,483) rotate(-90)" textLength="84" lengthAdjust="spacingAndGlyphs">Material Properties (Karamba3D)</text>
<text class="i" x="1020" y="429.5">Family of material</text><text class="i" x="1020" y="436.5">Name</text><text class="i" x="1020" y="444.5">Element|Identifier</text><text class="i" x="1020" y="452.5">Color</text><text class="i" x="1020" y="460.5">E1</text><text class="i" x="1020" y="468.5">E2</text><text class="i" x="1020" y="476.5">G12</text><text class="i" x="1020" y="484.5">nue12</text><text class="i" x="1020" y="492.5">G31</text><text class="i" x="1020" y="499.5">G32</text><text class="i" x="1020" y="508.5">gamma</text><text class="i" x="1020" y="515.5">alphaT1</text><text class="i" x="1020" y="523.5">alphaT2</text><text class="i" x="1020" y="531.5">fy1</text><text class="i" x="1020" y="539.5">fy2</text>
<text class="o" x="1032" y="484.5">Material</text>
<rect class="s" x="982" y="543" width="70" height="6"/><text class="st" x="1017" y="547.5">Material Type</text>
<rect class="sl" x="982" y="549" width="70" height="14"/><rect class="dd" x="985" y="552" width="64" height="9"/><rect x="1044" y="552.5" width="4" height="8" fill="#fff" stroke="#333" stroke-width=".5"/>
<text class="rt" x="1015" y="558">Orthotropic</text>
<circle class="p" cx="982" cy="428" r="1.6"/><circle class="p" cx="982" cy="435" r="1.6"/><circle class="p" cx="982" cy="443" r="1.6"/><circle class="p" cx="982" cy="451" r="1.6"/><circle class="p" cx="982" cy="459" r="1.6"/><circle class="p" cx="982" cy="467" r="1.6"/><circle class="p" cx="982" cy="475" r="1.6"/><circle class="p" cx="982" cy="483" r="1.6"/><circle class="p" cx="982" cy="491" r="1.6"/><circle class="p" cx="982" cy="498" r="1.6"/><circle class="p" cx="982" cy="507" r="1.6"/><circle class="p" cx="982" cy="514" r="1.6"/><circle class="p" cx="982" cy="522" r="1.6"/><circle class="p" cx="982" cy="530" r="1.6"/><circle class="p" cx="982" cy="538" r="1.6"/>
<circle class="p" cx="1052" cy="483" r="1.6"/>
</g>
</svg>
